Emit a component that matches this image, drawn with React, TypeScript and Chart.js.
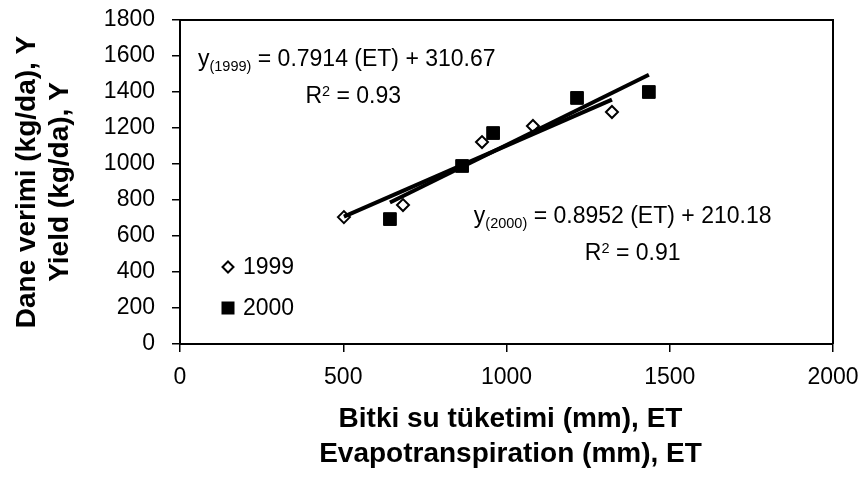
import React, { useEffect, useRef } from 'react';
import { Chart, registerables } from 'chart.js';

Chart.register(...registerables);

// ---- data ----
const seriesNames = ['1999', '2000'];
const et1999 = [502, 683, 925, 1081, 1323];
const yield1999 = [705, 772, 1122, 1211, 1289];
const et2000 = [643, 864, 959, 1216, 1436];
const yield2000 = [694, 989, 1172, 1367, 1400];
const trend1999X = [502, 1323];
const trend1999Y = [708, 1358];
const trend2000X = [643, 1436];
const trend2000Y = [786, 1496];
const xTicks = [0, 500, 1000, 1500, 2000];
const yTicks = [0, 200, 400, 600, 800, 1000, 1200, 1400, 1600, 1800];
const eq1999 = { sub: '(1999)', rest: ' = 0.7914 (ET) + 310.67', r2: ' = 0.93' };
const eq2000 = { sub: '(2000)', rest: ' = 0.8952 (ET) + 210.18', r2: ' = 0.91' };
const xTitle = ['Bitki su tüketimi (mm), ET', 'Evapotranspiration (mm), ET'];
const yTitle = ['Dane verimi (kg/da), Y', 'Yield (kg/da), Y'];

const FONT = '"Liberation Sans", Arial, sans-serif';

const toPts = (xs: number[], ys: number[]) => xs.map((x, i) => ({ x, y: ys[i] }));

const decorPlugin = {
  id: 'decor',
  afterDraw(chart: any) {
    const { ctx, chartArea: ca, scales } = chart;
    const xs = scales.x;
    const ys = scales.y;
    ctx.save();
    // frame top/right
    ctx.strokeStyle = '#000';
    ctx.lineWidth = 2;
    ctx.beginPath();
    ctx.moveTo(ca.left, ca.top);
    ctx.lineTo(ca.right, ca.top);
    ctx.lineTo(ca.right, ca.bottom);
    ctx.stroke();

    ctx.fillStyle = '#000';
    // equations
    const drawEq = (eq: any, ex: number, ey: number, rx: number, ry: number) => {
      let px = xs.getPixelForValue(ex);
      const py = ys.getPixelForValue(ey);
      ctx.textAlign = 'left';
      ctx.textBaseline = 'alphabetic';
      ctx.font = `23px ${FONT}`;
      ctx.fillText('y', px, py);
      px += ctx.measureText('y').width;
      ctx.font = `14.5px ${FONT}`;
      ctx.fillText(eq.sub, px, py + 5);
      px += ctx.measureText(eq.sub).width;
      ctx.font = `23px ${FONT}`;
      ctx.fillText(eq.rest, px, py);
      let qx = xs.getPixelForValue(rx);
      const qy = ys.getPixelForValue(ry);
      ctx.fillText('R', qx, qy);
      qx += ctx.measureText('R').width;
      ctx.font = `14.5px ${FONT}`;
      ctx.fillText('2', qx, qy - 7);
      qx += ctx.measureText('2').width;
      ctx.font = `23px ${FONT}`;
      ctx.fillText(eq.r2, qx, qy);
    };
    drawEq(eq1999, 55, 1545, 384, 1340);
    drawEq(eq2000, 900, 672, 1240, 467);

    // legend
    const lx = ca.left + 48;
    const rows = [ca.bottom - 77, ca.bottom - 36];
    ctx.lineWidth = 2;
    ctx.beginPath();
    ctx.moveTo(lx, rows[0] - 5.5);
    ctx.lineTo(lx + 5.5, rows[0]);
    ctx.lineTo(lx, rows[0] + 5.5);
    ctx.lineTo(lx - 5.5, rows[0]);
    ctx.closePath();
    ctx.fillStyle = '#fff';
    ctx.fill();
    ctx.stroke();
    ctx.fillStyle = '#000';
    ctx.fillRect(lx - 6.5, rows[1] - 6.5, 13, 13);
    ctx.font = `23px ${FONT}`;
    ctx.textBaseline = 'middle';
    ctx.textAlign = 'left';
    ctx.fillText(seriesNames[0], lx + 15, rows[0] + 1);
    ctx.fillText(seriesNames[1], lx + 15, rows[1] + 1);

    // axis titles
    ctx.font = `bold 28px ${FONT}`;
    ctx.textAlign = 'center';
    ctx.textBaseline = 'alphabetic';
    const cx = (ca.left + ca.right) / 2 + 4;
    ctx.fillText(xTitle[0], cx, ca.bottom + 83);
    ctx.fillText(xTitle[1], cx, ca.bottom + 118);
    const cy = (ca.top + ca.bottom) / 2;
    [35, 68].forEach((bx, i) => {
      ctx.save();
      ctx.translate(bx, cy);
      ctx.rotate(-Math.PI / 2);
      ctx.fillText(yTitle[i], 0, 0);
      ctx.restore();
    });
    ctx.restore();
  },
};

export default function App() {
  const ref = useRef<HTMLCanvasElement | null>(null);
  useEffect(() => {
    document.body.style.margin = '0';
    Chart.defaults.font.family = FONT;
    const chart = new Chart(ref.current as HTMLCanvasElement, {
      type: 'scatter',
      data: {
        datasets: [
          {
            label: 'trend1999',
            data: toPts(trend1999X, trend1999Y),
            showLine: true,
            borderColor: '#000',
            borderWidth: 4,
            pointRadius: 0,
            order: 0,
          },
          {
            label: 'trend2000',
            data: toPts(trend2000X, trend2000Y),
            showLine: true,
            borderColor: '#000',
            borderWidth: 4,
            pointRadius: 0,
            order: 0,
          },
          {
            label: seriesNames[0],
            data: toPts(et1999, yield1999),
            pointStyle: 'rectRot',
            pointRadius: 6,
            borderWidth: 2,
            borderColor: '#000',
            backgroundColor: '#fff',
            order: 1,
          },
          {
            label: seriesNames[1],
            data: toPts(et2000, yield2000),
            pointStyle: 'rect',
            pointRadius: 9,
            borderWidth: 1,
            borderColor: '#000',
            backgroundColor: '#000',
            order: 1,
          },
        ],
      },
      options: {
        animation: false,
        responsive: false,
        layout: { padding: { left: 0, right: 27, top: 20, bottom: 0 } },
        plugins: { legend: { display: false }, tooltip: { enabled: false } },
        scales: {
          x: {
            type: 'linear',
            min: 0,
            max: 2000,
            afterBuildTicks: (s: any) => { s.ticks = xTicks.map((v) => ({ value: v })); },
            afterFit: (s: any) => { s.height = 137; s.paddingLeft = 0; s.paddingRight = 0; },
            ticks: { color: '#000', font: { size: 23, family: FONT }, padding: 12, maxRotation: 0, callback: (v: any) => String(v) },
            grid: { drawOnChartArea: false, drawTicks: true, tickLength: 8, color: '#000', lineWidth: 1.5 },
            border: { display: true, color: '#000', width: 2 },
          },
          y: {
            type: 'linear',
            min: 0,
            max: 1800,
            afterBuildTicks: (s: any) => { s.ticks = yTicks.map((v) => ({ value: v })); },
            afterFit: (s: any) => { s.width = 180; s.paddingTop = 0; s.paddingBottom = 0; },
            ticks: { color: '#000', font: { size: 23, family: FONT }, padding: 17, callback: (v: any) => String(v) },
            grid: { drawOnChartArea: false, drawTicks: true, tickLength: 8, color: '#000', lineWidth: 1.5 },
            border: { display: true, color: '#000', width: 2 },
          },
        },
      },
      plugins: [decorPlugin],
    } as any);
    return () => chart.destroy();
  }, []);
  return (
    <div style={{ width: 860, height: 481, background: '#fff' }}>
      <canvas ref={ref} width={860} height={481} />
    </div>
  );
}
